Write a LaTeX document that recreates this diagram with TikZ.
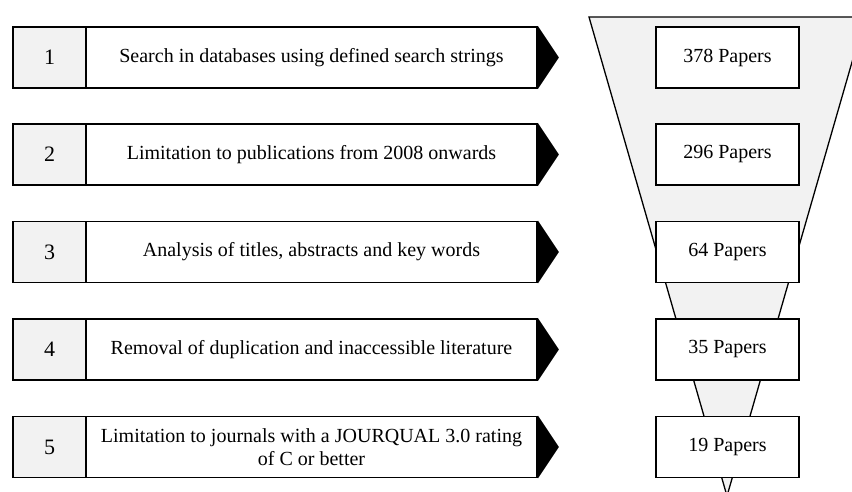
\documentclass[tikz,border=0pt]{standalone}
\usepackage{fontspec}
\setmainfont{Liberation Serif}
\usetikzlibrary{calc}
\definecolor{lgray}{HTML}{F2F2F2}
\tikzset{
  numcell/.style={draw, line width=1.8pt, fill=lgray, minimum width=73pt, minimum height=61pt, inner sep=0pt, font=\fontsize{22}{26}\selectfont},
  textcell/.style={draw, line width=1.8pt, fill=white, minimum width=451pt, minimum height=61pt, inner sep=0pt, align=center, font=\fontsize{20}{23}\selectfont},
  papers/.style={draw, line width=1.4pt, fill=white, minimum width=143pt, minimum height=61pt, inner sep=0pt, font=\fontsize{20}{23}\selectfont},
  arrowtip/.style={fill=black},
  funnel/.style={draw, fill=lgray, line width=1.3pt}
}
\begin{document}
\begin{tikzpicture}[x=1pt, y=-1pt]
\useasboundingbox (0,0) rectangle (852,491);
\clip (0,0) rectangle (852,491);
\filldraw[funnel] (589,17) -- (865,17) -- (727,496) -- cycle;
\foreach \i/\y/\t/\p in {1/57.5/{Search in databases using defined search strings}/378,
                         2/154.5/{Limitation to publications from 2008 onwards}/296,
                         3/252/{Analysis of titles, abstracts and key words}/64,
                         4/349.5/{Removal of duplication and inaccessible literature}/35,
                         5/447/{Limitation to journals with a JOURQUAL 3.0 rating\\of C or better}/19}{
  \node[numcell] (n\i) at (49.5,\y) {\i};
  \node[textcell] (t\i) at (311.5,\y) {\t};
  \fill[arrowtip] (t\i.north east) -- ($(t\i.east)+(21,0)$) -- (t\i.south east) -- cycle;
  \node[papers] (p\i) at (727.5,\y) {\p{} Papers};
}
\end{tikzpicture}
\end{document}
